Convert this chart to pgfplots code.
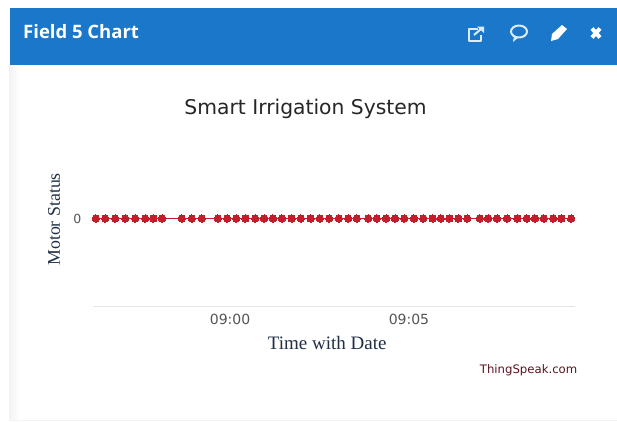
\documentclass[border=0pt]{standalone}
\usepackage{fontspec}
\usepackage{pgfplots}
\pgfplotsset{compat=1.18}
\setmainfont{DejaVu Sans}
\newfontfamily\serifb{Liberation Serif}
\newfontfamily\headf{Open Sans}
\definecolor{hdr}{HTML}{1A77C9}
\definecolor{ser}{HTML}{C41C2A}
\definecolor{tick}{HTML}{555555}
\definecolor{navy}{HTML}{1F2F45}
\definecolor{ts}{HTML}{5A1420}
\begin{document}
\begin{tikzpicture}
\begin{scope}[x=1pt,y=-1pt]
\path[use as bounding box] (0,0) rectangle (617,421);
\fill[white] (0,0) rectangle (617,421);
\shade[left color=black!5, right color=white] (9,65) rectangle (20,420);
\fill[black!5] (9,419.5) rectangle (617,420.5);
\fill[hdr] (10,8) rectangle (617,64.5);
\node[anchor=west,text=white,inner sep=0pt,font=\headf\bfseries\fontsize{18.5}{20}\selectfont] at (23,31.5) {Field 5 Chart};
% icons
\begin{scope}[white!85!hdr,line width=2pt,line join=round]
\draw (478,29) -- (469,29) -- (469,41) -- (481,41) -- (481,35);
\draw (474,35) -- (481,29);
\fill (477,26.5) -- (484,26.5) -- (484,33) -- cycle;
\draw (519,31.5) ellipse (8 and 6);
\fill (514,36) -- (513,42) -- (519,37) -- cycle;
\end{scope}
\fill[white] (551,41) -- (552,34) -- (562,25) -- (567,29) -- (558,39) -- cycle;
\draw[white,line width=4pt] (592,28.5) -- (600,37.5) (592,37.5) -- (600,28.5);
\end{scope}
\begin{axis}[
  at={(93pt,-306.5pt)}, anchor=south west,
  scale only axis, width=482pt, height=176pt,
  xmin=-3.83, xmax=9.64, ymin=-1, ymax=1,
  axis x line=bottom, axis y line=none,
  axis line style={draw=black!10,line width=0.8pt,-},
  xtick={0,5}, xticklabels={09:00,09:05},
  ytick={0}, tick style={draw=none},
  clip=false,
  every axis title shift=0pt,
  title={Smart Irrigation System},
  title style={at={(axis description cs:0.441,1.125)},anchor=center,inner sep=0pt,text=black!85,font=\fontsize{20.3}{22}\selectfont},
  xlabel={Time with Date},
  xlabel style={at={(axis description cs:0.486,-0.21)},anchor=center,inner sep=0pt,text=navy,font=\serifb\fontsize{19}{21}\selectfont},
  xticklabel style={text=tick,font=\fontsize{14}{16}\selectfont,yshift=-2pt},
]
\addplot[color=ser,line width=1.8pt,mark=*,mark size=3.7pt,mark options={fill=ser,draw=ser,line width=0pt}] coordinates {
(-3.75,0)(-3.49,0)(-3.21,0)(-2.93,0)(-2.65,0)(-2.37,0)(-2.14,0)(-1.90,0)
(-1.35,0)(-1.07,0)(-0.79,0)
(-0.34,0)(-0.08,0)(0.17,0)(0.43,0)(0.70,0)(0.95,0)(1.20,0)(1.45,0)(1.72,0)(1.98,0)(2.25,0)(2.51,0)(2.77,0)(3.04,0)(3.30,0)(3.54,0)
(3.86,0)(4.10,0)(4.36,0)(4.61,0)(4.87,0)(5.14,0)(5.40,0)(5.66,0)(5.89,0)(6.13,0)(6.38,0)(6.63,0)
(6.98,0)(7.21,0)(7.46,0)(7.74,0)(8.03,0)(8.29,0)(8.52,0)(8.77,0)(9.03,0)(9.26,0)(9.53,0)
};
\node[anchor=east,inner sep=0pt,text=tick,font=\fontsize{12.5}{14}\selectfont] at (axis description cs:-0.024,0.5) {0};
\node[rotate=90,anchor=center,inner sep=0pt,text=navy,font=\serifb\fontsize{17.8}{20}\selectfont] at (axis description cs:-0.081,0.495) {Motor Status};
\node[anchor=east,inner sep=0pt,text=ts,font=\fontsize{11.7}{13}\selectfont] at (axis description cs:1.005,-0.36) {ThingSpeak.com};
\end{axis}
\end{tikzpicture}
\end{document}
